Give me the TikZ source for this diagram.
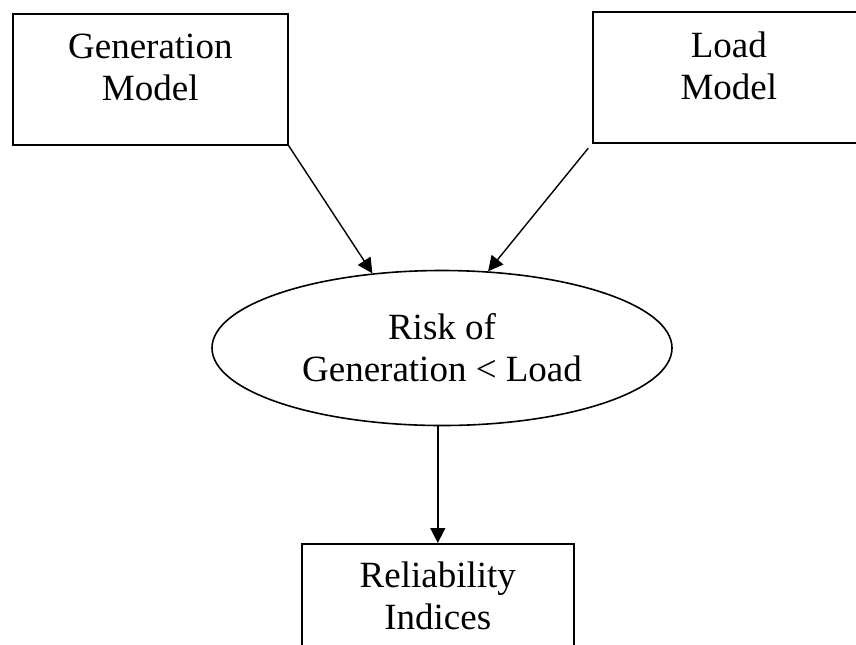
\documentclass[tikz,border=0pt]{standalone}
\usepackage{fontspec}
\setmainfont{Liberation Serif}
\usetikzlibrary{arrows.meta}
\usetikzlibrary{shapes.geometric}
\newcommand{\twoline}[2]{\begin{tabular}[t]{@{}c@{}}#1\\#2\end{tabular}}

\begin{document}
\begin{tikzpicture}[x=0.5pt, y=-0.5pt, every node/.style={font=\fontsize{18.5}{21}\selectfont, inner sep=0pt, line width=0.8pt}, modelbox/.style={draw, rectangle, anchor=north west, minimum width=136pt, text height=22.5pt, text depth=43pt}, riskshape/.style={draw, ellipse, minimum width=230pt, minimum height=77.5pt, align=center}, flow/.style={-{Triangle[length=7.5pt, width=7.5pt]}, line width=0.7pt}]
  \useasboundingbox (0,0) rectangle (856,644);
  \node(gen) [modelbox, minimum width=137.5pt] at (12,13) {\twoline{Generation}{Model}};
  \node(load) [modelbox, text height=23pt, text depth=42.5pt] at (592,11) {\twoline{Load}{Model}};
  \node(risk) [riskshape] at (442,348) {Risk of\\Generation < Load};
  \node(rel) [modelbox, text height=22pt, text depth=43.5pt] at (301,543) {\twoline{Reliability}{Indices}};
  \draw[flow] (gen.south east) -- (risk.133);
  \draw[flow, shorten <=3pt] (load.south west) -- (risk.59);
  \draw[flow] (rel.north |- risk.south) -- (rel.north);
\end{tikzpicture}
\end{document}
